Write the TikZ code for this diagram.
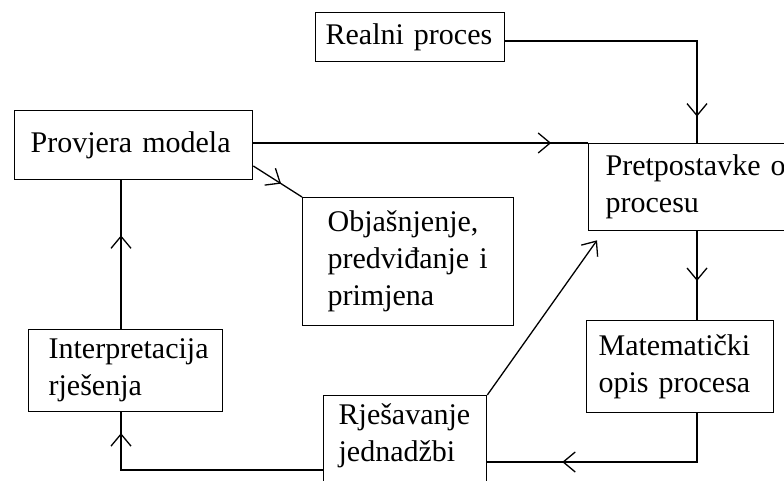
\documentclass[tikz,border=0pt]{standalone}
\usepackage{fontspec}
\setmainfont{Liberation Serif}
\usetikzlibrary{arrows.meta,decorations.markings}
\tikzset{
  okvir/.style={draw,line width=1.3pt,align=left,anchor=north west,font=\fontsize{30}{37}\selectfont},
  strelica/.style={postaction={decorate},decoration={markings,mark=at position #1 with {\arrow{Straight Barb[length=12pt,width=20pt]}}}}
}
\begin{document}
\begin{tikzpicture}[x=1pt,y=-1pt,line width=1.3pt]
\useasboundingbox (0,0) rectangle (784,481);
\node[okvir,text width=169pt,inner xsep=10pt,minimum height=49pt] (realni) at (315,12) {Realni proces};
\node[okvir,text width=206pt,inner xsep=16pt,minimum height=69pt] (provjera) at (14,110) {Provjera modela};
\node[okvir,text width=184pt,inner xsep=17pt,minimum height=87pt] (pretpostavke) at (588,143) {Pretpostavke o\\procesu};
\node[okvir,text width=161pt,inner xsep=25pt,minimum height=128pt] (objasnjenje) at (302,197) {Objašnjenje,\\predviđanje i\\primjena};
\node[okvir,text width=154pt,inner xsep=20pt,minimum height=82pt] (interpretacija) at (28,329) {Interpretacija\\rješenja};
\node[okvir,text width=163pt,inner xsep=12pt,minimum height=92pt] (matematicki) at (586,320) {Matematički\\opis procesa};
\node[okvir,text width=133pt,inner xsep=15pt,inner ysep=8pt,text depth=60pt] (rjesavanje) at (323,395) {Rješavanje\\jednadžbi};
\draw[strelica=0.91] ([yshift=-29pt]realni.north east) -| ([xshift=109pt]pretpostavke.north west);
\draw[strelica=0.89] (provjera.east |- pretpostavke.north west) -- (pretpostavke.north west);
\draw[strelica=0.57] ([yshift=-56pt]provjera.north east) -- (objasnjenje.north west);
\draw[strelica=0.63] ([xshift=93pt]interpretacija.north west) -- ([xshift=107pt]provjera.south west);
\draw[strelica=0.92] ([yshift=-75pt]rjesavanje.north west) -| ([xshift=93pt]interpretacija.south west);
\draw[strelica=0.56] ([xshift=109pt]pretpostavke.south west) -- ([xshift=111pt]matematicki.north west);
\draw[strelica=0.71] ([xshift=111pt]matematicki.south west) |- ([yshift=-67pt]rjesavanje.north east);
\draw[-{Straight Barb[length=12pt,width=20pt]}] (rjesavanje.north east) -- ([xshift=9pt,yshift=-9pt]pretpostavke.south west);
\end{tikzpicture}
\end{document}
